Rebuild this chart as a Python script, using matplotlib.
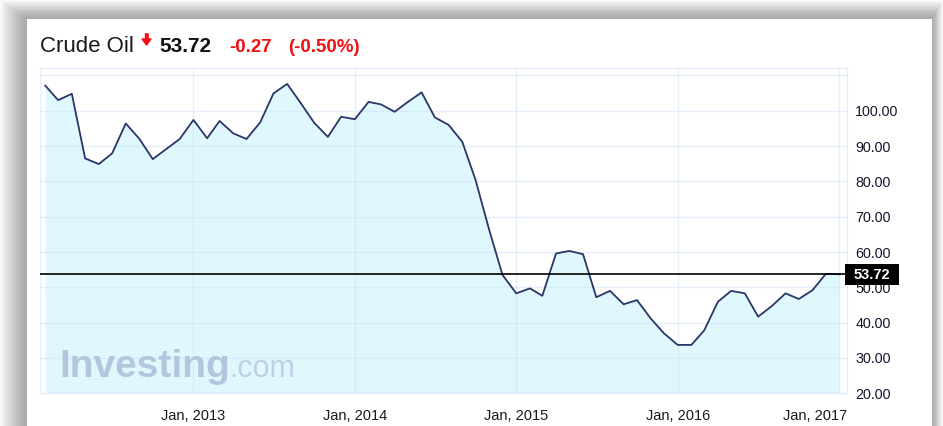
import numpy as np
import pandas as pd
import matplotlib
matplotlib.use("Agg")
import matplotlib.pyplot as plt
import matplotlib.patches as mpatches
from matplotlib.lines import Line2D
from matplotlib.transforms import ScaledTranslation

plt.rcParams['font.family'] = ['Liberation Sans', 'DejaVu Sans']

# monthly crude oil closes, Feb 2012 .. Jan 2017
start_month = '2012-02-01'
prices = [107.1, 103.0, 104.8, 86.5, 84.9, 87.9, 96.4, 92.0, 86.3, 89.2, 92.0,
          97.4, 92.2, 97.1, 93.6, 92.0, 96.7, 104.9, 107.6, 102.1, 96.6, 92.6, 98.3,
          97.6, 102.5, 101.8, 99.7, 102.5, 105.2, 98.1, 96.0, 91.2, 80.4, 66.2, 53.5,
          48.3, 49.7, 47.6, 59.6, 60.3, 59.4, 47.2, 49.0, 45.2, 46.4, 41.2, 37.0,
          33.7, 33.7, 37.8, 45.9, 49.0, 48.3, 41.7, 44.7, 48.3, 46.7, 49.2, 53.8,
          53.72]
months = pd.date_range(start_month, periods=len(prices), freq='MS')

last_price = 53.72
change = '-0.27'
change_pct = '(-0.50%)'
year_ticks = ['2013-01-01', '2014-01-01', '2015-01-01', '2016-01-01', '2017-01-01']
year_labels = ['Jan, 2013', 'Jan, 2014', 'Jan, 2015', 'Jan, 2016', 'Jan, 2017']
y_ticks = [20, 30, 40, 50, 60, 70, 80, 90, 100, 110]

W, H = 943, 426
fig = plt.figure(figsize=(W / 100, H / 100), dpi=100)
fig.patch.set_facecolor('white')

def px(x, y):
    # pixel coords (from top-left) -> figure fraction
    return x / W, 1 - y / H

# grey drop shadow round the white card
n = 20
for k in range(n, -1, -1):
    g = 0.66 + 0.32 * (k / n) ** 1.3
    x0 = 27 - k * 1.35
    y0 = 19 - k * 0.95
    x1 = 931.7 + k * 0.55
    r = mpatches.Rectangle(px(x0, H + 5), (x1 - x0) / W, (H + 5 - y0) / H,
                           transform=fig.transFigure, facecolor=str(g),
                           edgecolor='none', zorder=-20)
    fig.add_artist(r)
card = mpatches.Rectangle(px(27, H + 5), (931.7 - 27) / W, (H + 5 - 19) / H,
                          transform=fig.transFigure, facecolor='white',
                          edgecolor='none', zorder=-19)
fig.add_artist(card)

# header
fig.text(*px(40, 51.5), 'Crude Oil', fontsize=16, color='#1a1a1a', va='baseline')
arrow = [(-0.3, 1), (0.3, 1), (0.3, 0.1), (0.8, 0.1), (0, -1), (-0.8, 0.1), (-0.3, 0.1)]
ax_, ay_ = px(146.3, 38.8)
fig.add_artist(Line2D([ax_], [ay_], transform=fig.transFigure,
                      marker=arrow, markersize=8, color='#f01010', linestyle='none'))
fig.text(*px(159, 51.5), f'{last_price:.2f}', fontsize=15, fontweight='bold',
         color='#111111', va='baseline')
fig.text(*px(229, 51.5), change, fontsize=13.5, fontweight='bold', color='#f01010', va='baseline')
fig.text(*px(288, 51.5), change_pct, fontsize=13.5, fontweight='bold', color='#f01010', va='baseline')

# plot area
left, top, right, bottom = 40, 68, 847, 393.3
ax = fig.add_axes([left / W, 1 - bottom / H, (right - left) / W, (bottom - top) / H])
ax.set_facecolor('white')

ax.fill_between(months, prices, 20, color='#dff8fe', linewidth=0, zorder=1)
ax.plot(months, prices, color='#2a3568', linewidth=1.3, zorder=3)
ax.axhline(last_price, color='black', linewidth=1.2, zorder=4)

ax.set_ylim(20, 112.1)
ax.set_xlim(pd.Timestamp('2012-01-20'), pd.Timestamp('2017-01-18'))

ax.set_yticks(y_ticks)
ax.set_yticklabels([f'{v:.2f}' if v <= 100 else '' for v in y_ticks])
ax.yaxis.tick_right()
ax.set_xticks([pd.Timestamp(t) for t in year_ticks])
ax.set_xticklabels(year_labels)
ax.tick_params(axis='y', length=0, pad=6, labelsize=10.3, labelcolor='#15152e')
ax.tick_params(axis='x', length=0, pad=11, labelsize=10.5, labelcolor='#1a1a1a')
# last label is pushed left to stay inside the card
lbl = ax.get_xticklabels()[-1]
lbl.set_ha('right')
lbl.set_transform(lbl.get_transform() + ScaledTranslation(8 / 100, 0, fig.dpi_scale_trans))

ax.set_axisbelow(False)
ax.grid(True, color='#c9dcf4', alpha=0.45, linewidth=1.0)
for s in ax.spines.values():
    s.set_color('#e6eefb')
    s.set_linewidth(1.0)

# current price tag on the right
trans = ax.get_yaxis_transform()
ax.add_patch(mpatches.Rectangle((0.9975, 50.55), 54 / (right - left), 6.15, transform=trans,
                                facecolor='black', edgecolor='none', clip_on=False, zorder=6))
ax.text(0.9975 + 27 / (right - left), 53.45, f'{last_price:.2f}', transform=trans,
        color='white', fontsize=10.5, fontweight='bold', ha='center', va='center',
        clip_on=False, zorder=7)

# watermark
fig.text(*px(59, 377), 'Investing', fontsize=28, fontweight='bold', color='#b4c6de',
         va='baseline', zorder=2)
fig.text(*px(229, 377), '.com', fontsize=22, color='#bfcfe4', va='baseline', zorder=2)

fig.savefig('out.png', dpi=100)
